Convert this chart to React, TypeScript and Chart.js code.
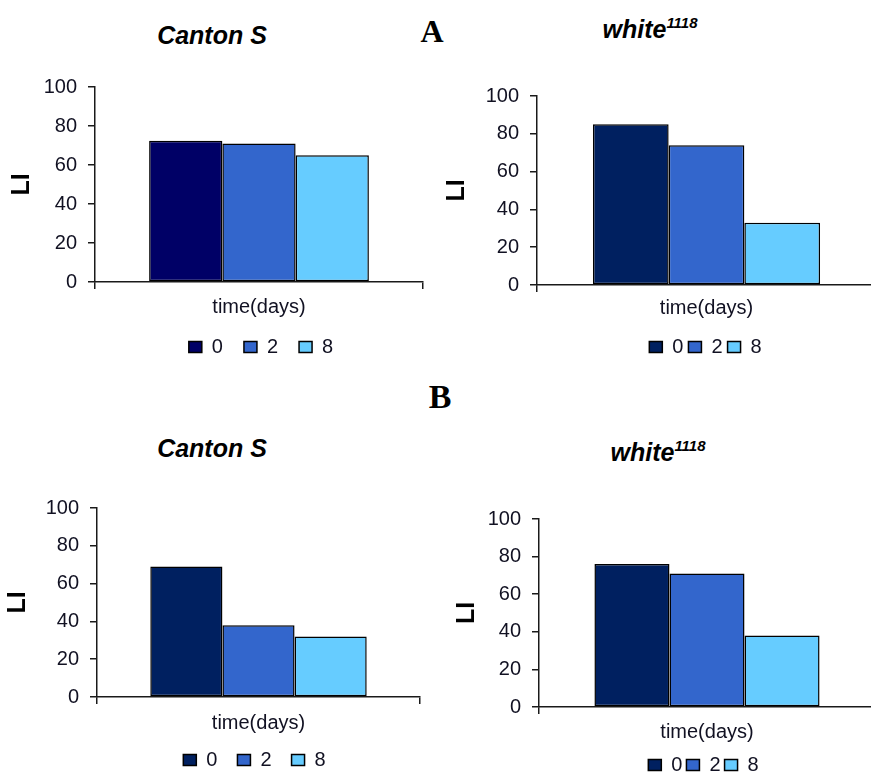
import React, { useEffect, useRef } from 'react';
import { Chart, registerables } from 'chart.js';

Chart.register(...registerables);

// ---- data ----
const SERIES_LABELS = ['0', '2', '8'];
const CATEGORIES = [''];
const X_TITLE = 'time(days)';
const Y_TITLE = 'LI';
const Y_TICKS = [0, 20, 40, 60, 80, 100];

const A_CANTON = [72.5, 71, 65];
const A_WHITE = [85, 74, 33];
const B_CANTON = [69, 38, 32];
const B_WHITE = [76, 71, 38];

const COLORS_A_CANTON = ['#000066', '#3366CC', '#66CCFF'];
const COLORS_OTHER = ['#002060', '#3366CC', '#66CCFF'];

const FONT = '"Liberation Sans", Arial, sans-serif';
const AXIS = '#1a1a1a';
const TEXT = '#111122';

type Geo = {
  left: number; top: number; width: number; height: number;
  yw: number; dummy: number; padT: number;
  xh: number; pb: number; legendPad: number;
};

function Panel({ values, colors, g }: { values: number[]; colors: string[]; g: Geo }) {
  const ref = useRef<HTMLCanvasElement | null>(null);
  useEffect(() => {
    if (!ref.current) return;
    const chart = new Chart(ref.current, {
      type: 'bar',
      data: {
        labels: CATEGORIES,
        datasets: SERIES_LABELS.map((lab, i) => ({
          label: lab,
          data: [values[i]],
          backgroundColor: colors[i],
          borderColor: '#000',
          borderWidth: 1.5,
          borderSkipped: false,
          categoryPercentage: 0.67,
          barPercentage: 1,
        })),
      },
      options: {
        responsive: false,
        animation: false,
        layout: { padding: { top: 8, left: 0, right: 0, bottom: 0 } },
        plugins: {
          legend: {
            position: 'bottom',
            labels: {
              boxWidth: 13,
              boxHeight: 11,
              padding: g.legendPad,
              color: TEXT,
              font: { family: FONT, size: 20 },
            },
          },
          tooltip: { enabled: false },
          title: { display: false },
        },
        scales: {
          x: {
            grid: { display: true, drawOnChartArea: false, drawTicks: true, tickLength: 7, color: AXIS, lineWidth: 1.5, offset: true },
            border: { display: true, color: AXIS, width: 1.5 },
            ticks: { display: false },
            title: {
              display: true, text: X_TITLE, color: TEXT,
              font: { family: FONT, size: 20, lineHeight: 1.2 },
              padding: { top: 0, bottom: g.pb },
            },
            afterFit: (s: any) => { s.height = g.xh; },
          },
          y: {
            min: 0, max: 100,
            afterBuildTicks: (s: any) => { s.ticks = Y_TICKS.map((v) => ({ value: v })); },
            ticks: { padding: 11, color: TEXT, font: { family: FONT, size: 20 } },
            grid: { drawOnChartArea: false, drawTicks: true, tickLength: 7, color: AXIS, lineWidth: 1.5 },
            border: { display: true, color: AXIS, width: 1.5 },
            title: {
              display: true, text: Y_TITLE, color: '#000',
              font: { family: FONT, size: 25, weight: 'bold', lineHeight: 1 },
              padding: { top: g.padT, bottom: 0 },
            },
            afterFit: (s: any) => { s.width = g.yw; },
          },
          r: {
            type: 'linear', position: 'right', display: true,
            grid: { display: false }, border: { display: false }, ticks: { display: false },
            afterFit: (s: any) => { s.width = g.dummy; },
          },
        },
      } as any,
    });
    return () => chart.destroy();
  }, []);
  return (
    <canvas
      ref={ref}
      width={g.width}
      height={g.height}
      style={{ position: 'absolute', left: g.left, top: g.top, width: g.width, height: g.height }}
    />
  );
}

function Label({ x, y, children, style }: any) {
  return (
    <div
      style={{
        position: 'absolute', left: x, top: y, transform: 'translate(-50%, -50%)',
        whiteSpace: 'nowrap', lineHeight: 1, ...style,
      }}
    >
      {children}
    </div>
  );
}

const titleStyle = { fontFamily: FONT, fontWeight: 'bold', fontStyle: 'italic', fontSize: 25, color: '#000' };
const letterStyle = { fontFamily: '"Liberation Serif", "Times New Roman", serif', fontWeight: 'bold', color: '#000' };

function White() {
  return (
    <span>
      white<span style={{ fontSize: 15, position: 'relative', top: -10 }}>1118</span>
    </span>
  );
}

export default function App() {
  const gAL: Geo = { left: 0, top: 64, width: 522, height: 303, yw: 95, dummy: 99, padT: 10, xh: 34, pb: -3, legendPad: 21 };
  const gAR: Geo = { left: 440, top: 73, width: 531, height: 294, yw: 97, dummy: 95, padT: 5, xh: 47, pb: 12, legendPad: 5 };
  const gBL: Geo = { left: 0, top: 485, width: 509, height: 295, yw: 97, dummy: 89, padT: 6, xh: 33, pb: -5, legendPad: 20 };
  const gBR: Geo = { left: 440, top: 496, width: 527, height: 289, yw: 99, dummy: 92, padT: 15, xh: 44, pb: 7, legendPad: 4 };
  return (
    <div style={{ position: 'absolute', left: 0, top: 0, width: 871, height: 773, overflow: 'hidden', background: '#fff' }}>
      <Panel values={A_CANTON} colors={COLORS_A_CANTON} g={gAL} />
      <Panel values={A_WHITE} colors={COLORS_OTHER} g={gAR} />
      <Panel values={B_CANTON} colors={COLORS_OTHER} g={gBL} />
      <Panel values={B_WHITE} colors={COLORS_OTHER} g={gBR} />
      <Label x={212} y={35} style={titleStyle}>Canton S</Label>
      <Label x={650} y={29} style={titleStyle}><White /></Label>
      <Label x={212} y={448} style={titleStyle}>Canton S</Label>
      <Label x={658} y={452} style={titleStyle}><White /></Label>
      <Label x={432} y={31} style={{ ...letterStyle, fontSize: 32 }}>A</Label>
      <Label x={440} y={397} style={{ ...letterStyle, fontSize: 34 }}>B</Label>
    </div>
  );
}
